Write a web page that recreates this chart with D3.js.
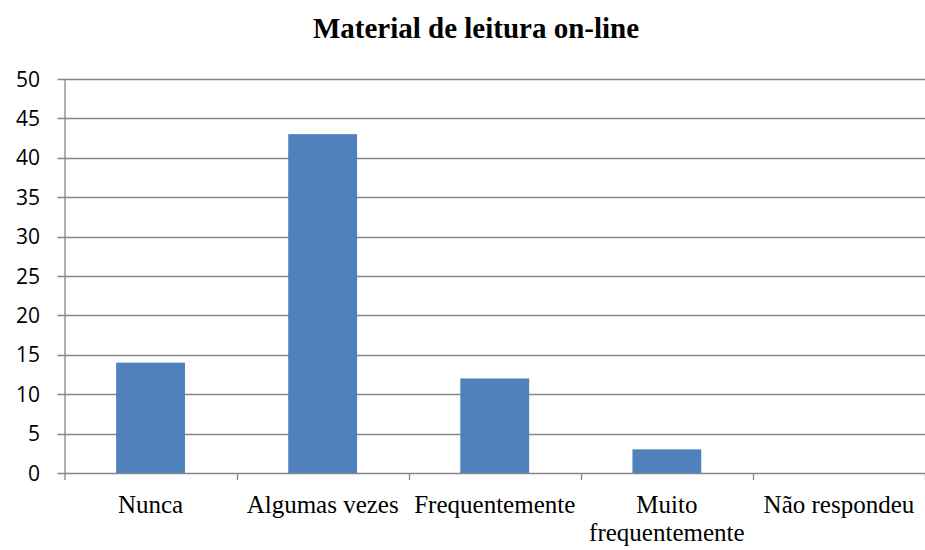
<!DOCTYPE html>
<html>
<head>
<meta charset="utf-8">
<script src="https://cdn.jsdelivr.net/npm/d3@7"></script>
<style>
  body { margin: 0; background: #fff; }
</style>
</head>
<body>
<svg id="chart"></svg>
<script>
const categories = ["Nunca", "Algumas vezes", "Frequentemente", "Muito frequentemente", "Não respondeu"];
const values = [14, 43, 12, 3, 0];
const yTicks = [0, 5, 10, 15, 20, 25, 30, 35, 40, 45, 50];
// how each category label is broken into lines
const labelLines = [["Nunca"], ["Algumas vezes"], ["Frequentemente"], ["Muito", "frequentemente"], ["Não respondeu"]];

const width = 925, height = 550;
const margin = { top: 79, right: 0, bottom: 77, left: 64.5 };

const svg = d3.select("#chart")
    .attr("width", width)
    .attr("height", height);

// category bands, edge to edge
const x = d3.scaleBand()
    .domain(categories)
    .range([margin.left, width - margin.right]);

const barWidth = x.bandwidth() * 0.4;

const y = d3.scaleLinear()
    .domain([0, 50])
    .range([height - margin.bottom, margin.top]);

const gridColor = "#868686";

// gridlines + y ticks
svg.append("g")
    .selectAll("line")
    .data(yTicks)
    .join("line")
    .attr("x1", margin.left - 7)
    .attr("x2", width - margin.right)
    .attr("y1", d => Math.round(y(d)) + 0.5)
    .attr("y2", d => Math.round(y(d)) + 0.5)
    .attr("stroke", gridColor)
    .attr("stroke-width", 1.3);

// y labels
svg.append("g")
    .selectAll("text")
    .data(yTicks)
    .join("text")
    .attr("x", 40)
    .attr("y", d => y(d))
    .attr("dy", "0.36em")
    .attr("text-anchor", "end")
    .style("font-family", "'Open Sans', 'DejaVu Sans', sans-serif")
    .style("font-size", "21px")
    .attr("fill", "#000")
    .text(d => d);

// bars
svg.selectAll(".bar")
    .data(values)
    .join("rect")
    .attr("class", "bar")
    .attr("x", (d, i) => x(categories[i]) + (x.bandwidth() - barWidth) / 2)
    .attr("y", d => y(d))
    .attr("width", barWidth)
    .attr("height", d => y(0) - y(d))
    .attr("fill", "#4F81BD");

// y axis line
svg.append("line")
    .attr("x1", margin.left + 0.5)
    .attr("x2", margin.left + 0.5)
    .attr("y1", y(50))
    .attr("y2", y(0) + 7)
    .attr("stroke", gridColor)
    .attr("stroke-width", 1.3);

// x tick marks at category boundaries
const edges = categories.map(c => x(c)).concat([width - margin.right]);
svg.append("g")
    .selectAll("line")
    .data(edges.slice(1))
    .join("line")
    .attr("x1", d => Math.round(d) + 0.5)
    .attr("x2", d => Math.round(d) + 0.5)
    .attr("y1", y(0))
    .attr("y2", y(0) + 7)
    .attr("stroke", gridColor)
    .attr("stroke-width", 1.3);

// x labels
const labels = svg.append("g")
    .selectAll("text")
    .data(categories)
    .join("text")
    .attr("x", c => x(c) + x.bandwidth() / 2)
    .attr("y", 513)
    .attr("text-anchor", "middle")
    .style("font-family", "'Liberation Serif', 'Times New Roman', serif")
    .style("font-size", "25px")
    .attr("fill", "#000");

labels.selectAll("tspan")
    .data((c, i) => labelLines[i])
    .join("tspan")
    .attr("x", function () { return d3.select(this.parentNode).attr("x"); })
    .attr("dy", (d, i) => i === 0 ? 0 : 28)
    .text(d => d);

// title
svg.append("text")
    .attr("x", 476)
    .attr("y", 38)
    .attr("text-anchor", "middle")
    .style("font-family", "'Liberation Serif', 'Times New Roman', serif")
    .style("font-size", "29px")
    .style("font-weight", "bold")
    .text("Material de leitura on-line");
</script>
</body>
</html>
